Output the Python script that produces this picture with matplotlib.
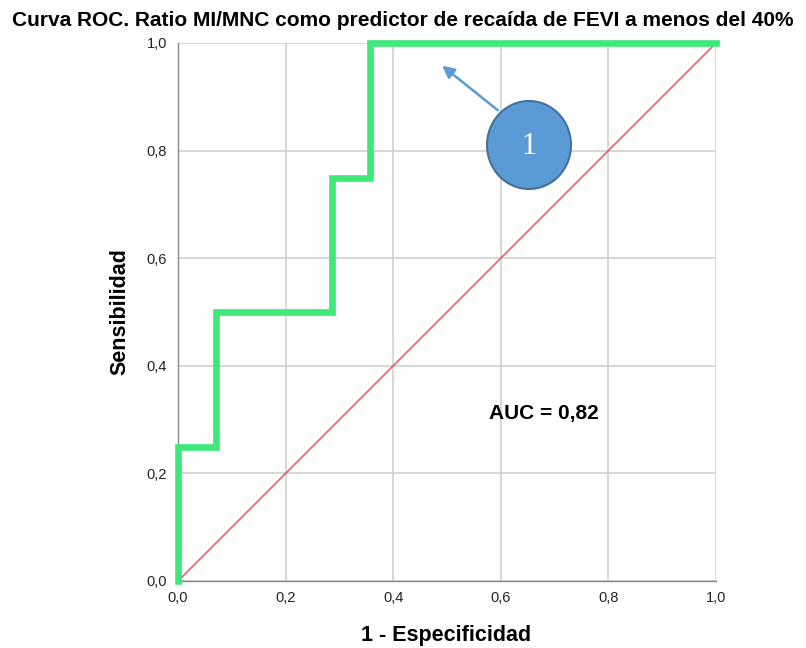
import matplotlib
matplotlib.use("Agg")
import matplotlib.pyplot as plt
from matplotlib.patches import Ellipse

plt.rcParams['font.family'] = ['Liberation Sans', 'DejaVu Sans']

# ROC data (4 positives, 14 negatives)
fpr = [0.0, 0.0, 1/14, 1/14, 4/14, 4/14, 5/14, 5/14, 1.0]
tpr = [0.0, 0.25, 0.25, 0.50, 0.50, 0.75, 0.75, 1.0, 1.0]
ref_line = [0.0, 1.0]
ticks = [0.0, 0.2, 0.4, 0.6, 0.8, 1.0]
tick_labels = ["0,0", "0,2", "0,4", "0,6", "0,8", "1,0"]
auc_text = "AUC = 0,82"
title = "Curva ROC. Ratio MI/MNC como predictor de recaída de FEVI a menos del 40%"

fig = plt.figure(figsize=(8.06, 6.48), dpi=100)
ax = fig.add_axes([178/806, 1-581/648, (716-178)/806, (581-43)/648])

ax.plot(ref_line, ref_line, color='#E8506C', lw=1.1, zorder=3)
ax.plot(fpr, tpr, color='#3EE87A', lw=4.8, solid_joinstyle='miter', zorder=4, clip_on=False)

ax.set_xlim(0, 1)
ax.set_ylim(0, 1)
ax.set_xticks(ticks)
ax.set_yticks(ticks)
ax.set_xticklabels(tick_labels, fontsize=10.5)
ax.set_yticklabels(tick_labels, fontsize=10.5)
ax.tick_params(length=0, pad=7, colors='#222222')
ax.tick_params(axis='y', pad=8)
ax.grid(True, color='#D0D0D0', lw=1.2)
ax.set_axisbelow(True)
for s in ['top', 'right']:
    ax.spines[s].set_visible(False)
for s in ['left', 'bottom']:
    ax.spines[s].set_color('#888888')
    ax.spines[s].set_linewidth(1.0)

fig.text(403/806, 1-21/648, title, ha='center', va='center', fontsize=15, fontweight='bold')
fig.text(120/806, 1-312/648, "Sensibilidad", ha='center', va='center', rotation=90,
         fontsize=15.5, fontweight='bold')
fig.text(446/806, 1-636/648, "1 - Especificidad", ha='center', va='center',
         fontsize=15.5, fontweight='bold')

ax.text((544-178)/538, (581-413)/538, auc_text, ha='center', va='center', fontsize=15, fontweight='bold')

# annotation circle with arrow
ax.annotate("", xy=((440-178)/538, (581-64)/538), xytext=((500-178)/538, (581-112)/538),
            arrowprops=dict(arrowstyle='-|>', color='#5B9BD5', lw=1.8, mutation_scale=18),
            zorder=6)
ell = Ellipse(((529-178)/538, (581-145)/538), 84/538, 88/538, facecolor='#5B9BD5',
              edgecolor='#41719C', lw=1.5, zorder=7, clip_on=False)
ax.add_patch(ell)
ax.text((529-178)/538, (581-146)/538, "1", ha='center', va='center', fontsize=22,
        color='white', family='Liberation Serif', zorder=8)

fig.savefig("out.png", dpi=100)
